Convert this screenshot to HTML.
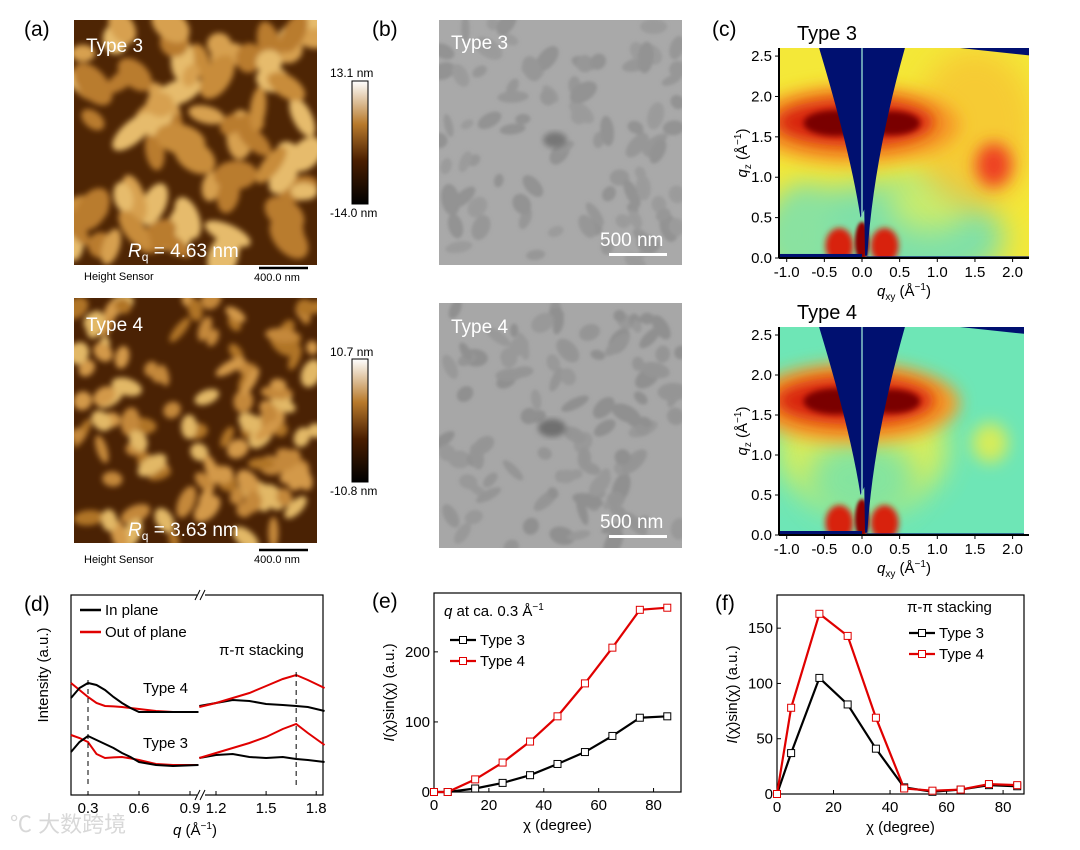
<!DOCTYPE html>
<html><head><meta charset="utf-8">
<style>
html,body{margin:0;padding:0;background:#fff;}
body{width:1080px;height:845px;position:relative;overflow:hidden;font-family:"Liberation Sans",Arial,sans-serif;}
svg text{font-family:"Liberation Sans",Arial,sans-serif;}
</style></head>
<body>
<svg id="fig" width="1080" height="845" viewBox="0 0 1080 845" xmlns="http://www.w3.org/2000/svg">
<defs>
  <filter id="blur3" x="-20%" y="-20%" width="140%" height="140%"><feGaussianBlur stdDeviation="3"/></filter>
  <filter id="blur8" x="-50%" y="-50%" width="200%" height="200%"><feGaussianBlur stdDeviation="8"/></filter>
  <filter id="blur14" x="-50%" y="-50%" width="200%" height="200%"><feGaussianBlur stdDeviation="14"/></filter>
  <filter id="blur2"><feGaussianBlur stdDeviation="1.5"/></filter>
  <linearGradient id="afmbar" x1="0" y1="1" x2="0" y2="0">
    <stop offset="0" stop-color="#000"/><stop offset="0.35" stop-color="#4a1e00"/>
    <stop offset="0.65" stop-color="#b87a2c"/><stop offset="1" stop-color="#fff"/>
  </linearGradient>
  <clipPath id="cA1"><rect x="74" y="20" width="243" height="245"/></clipPath>
  <clipPath id="cA2"><rect x="74" y="298" width="243" height="245"/></clipPath>
  <clipPath id="cB1"><rect x="439" y="20" width="243" height="245"/></clipPath>
  <clipPath id="cB2"><rect x="439" y="303" width="243" height="245"/></clipPath>
  <clipPath id="cC1"><rect x="779" y="48" width="250" height="210"/></clipPath>
  <clipPath id="cC2"><rect x="779" y="327" width="245" height="208"/></clipPath>
</defs>

<!-- (a) AFM -->
<text x="24" y="36" font-size="21">(a)</text>
<g clip-path="url(#cA1)">
  <rect x="74" y="20" width="243" height="245" fill="#4e2504"/>
  <g id="afm1" filter="url(#blur3)"></g>
</g>
<text x="86" y="52" font-size="19" fill="#fff">Type 3</text>
<text x="128" y="257" font-size="19" fill="#fff"><tspan font-style="italic">R</tspan><tspan font-size="12" dy="4">q</tspan><tspan dy="-4"> = 4.63 nm</tspan></text>
<text x="84" y="280" font-size="11">Height Sensor</text>
<line x1="259" y1="268" x2="308" y2="268" stroke="#000" stroke-width="2.5"/>
<text x="254" y="281" font-size="11">400.0 nm</text>
<rect x="352" y="81" width="16" height="123" fill="url(#afmbar)" stroke="#000"/>
<text x="330" y="77" font-size="12">13.1 nm</text>
<text x="330" y="217" font-size="12">-14.0 nm</text>

<g clip-path="url(#cA2)">
  <rect x="74" y="298" width="243" height="245" fill="#4a2204"/>
  <g id="afm2" filter="url(#blur3)"></g>
</g>
<text x="86" y="331" font-size="19" fill="#fff">Type 4</text>
<text x="128" y="536" font-size="19" fill="#fff"><tspan font-style="italic">R</tspan><tspan font-size="12" dy="4">q</tspan><tspan dy="-4"> = 3.63 nm</tspan></text>
<text x="84" y="563" font-size="11">Height Sensor</text>
<line x1="259" y1="550" x2="308" y2="550" stroke="#000" stroke-width="2.5"/>
<text x="254" y="563" font-size="11">400.0 nm</text>
<rect x="352" y="359" width="16" height="123" fill="url(#afmbar)" stroke="#000"/>
<text x="330" y="356" font-size="12">10.7 nm</text>
<text x="330" y="495" font-size="12">-10.8 nm</text>

<!-- (b) SEM -->
<text x="372" y="36" font-size="21">(b)</text>
<g clip-path="url(#cB1)">
  <rect x="439" y="20" width="243" height="245" fill="#a9a9a9"/>
  <g id="sem1" filter="url(#blur2)"></g>
  <ellipse cx="555" cy="140" rx="12" ry="8" fill="#777" filter="url(#blur3)"/>
</g>
<text x="451" y="49" font-size="19" fill="#fff">Type 3</text>
<text x="600" y="246" font-size="19" fill="#fff">500 nm</text>
<rect x="609" y="253" width="58" height="3" fill="#fff"/>
<g clip-path="url(#cB2)">
  <rect x="439" y="303" width="243" height="245" fill="#a7a7a7"/>
  <g id="sem2" filter="url(#blur2)"></g>
  <ellipse cx="552" cy="428" rx="14" ry="9" fill="#707070" filter="url(#blur3)"/>
</g>
<text x="451" y="333" font-size="19" fill="#fff">Type 4</text>
<text x="600" y="528" font-size="19" fill="#fff">500 nm</text>
<rect x="609" y="535" width="58" height="3" fill="#fff"/>

<!-- (c) GIWAXS -->
<text x="712" y="36" font-size="21">(c)</text>
<g id="gi1" clip-path="url(#cC1)"></g>
<g id="gi2" clip-path="url(#cC2)"></g>
<g id="giax"></g>

<g id="pd"></g><g id="pe"></g><g id="pf"></g>

<text x="10" y="832" font-size="22" fill="#d8d8d8" font-family="'Liberation Sans','Noto Sans CJK SC',sans-serif">℃ 大数跨境</text>
</svg>

<script>
// ===== chart data =====
// (e) q at ca. 0.3
const chiE = [0,5,15,25,35,45,55,65,75,85];
const eType3 = [0,0,5,13,24,40,57,80,106,108];
const eType4 = [0,0,18,42,72,108,155,206,260,263];
const eYTicks = [0,100,200];
const eXTicks = [0,20,40,60,80];
// (f) pi-pi stacking
const chiF = [0,5,15,25,35,45,55,65,75,85];
const fType3 = [0,37,105,81,41,6,2,4,8,7];
const fType4 = [0,78,163,143,69,5,3,4,9,8];
const fYTicks = [0,50,100,150];
const fXTicks = [0,20,40,60,80];
// (d) line cuts (arbitrary intensity)
const dqLow = [0.2,0.25,0.3,0.35,0.4,0.45,0.5,0.55,0.6,0.7,0.8,0.95];
const dqHigh = [1.1,1.2,1.3,1.4,1.5,1.6,1.68,1.75,1.85];
const d4InLow = [48.5,53.5,56,55,52.5,49,46,43.5,41.5,41.5,41.5,41.5];
const d4InHigh = [44.5,46,47.5,47,45.5,45,44.5,44,42];
const d4OutLow = [56,52.5,49,46,44.5,44.3,44,43.5,43,42,41.5,41.5];
const d4OutHigh = [44,46,48.5,51,54.5,58,60,57.5,53.5];
const d3InLow = [21.5,26.5,29.5,27.5,25.5,23.5,21,19,16.5,15,14.5,15];
const d3InHigh = [18.5,20,20.5,19,18.5,19,18,17.5,16.5];
const d3OutLow = [30,28.5,26.5,20.5,18.5,18.8,19,18.3,17.5,15.5,15,15];
const d3OutHigh = [18.5,21,23.5,26,29,33,35.5,31,25];
const dTicksLow = [0.3,0.6,0.9];
const dTicksHigh = [1.2,1.5,1.8];
// GIWAXS ticks
const giXTicks = [-1.0,-0.5,0.0,0.5,1.0,1.5,2.0];
const giYTicks = [0.0,0.5,1.0,1.5,2.0,2.5];

const NS = "http://www.w3.org/2000/svg";
function mk(tag, attrs, parent){const e=document.createElementNS(NS,tag);for(const k in attrs)e.setAttribute(k,attrs[k]);(parent||document.getElementById('fig')).appendChild(e);return e;}
function fmt1(v){return v.toFixed(1);}

// ===== textures (AFM, SEM) =====
let seed=7;function rnd(){seed=(seed*16807)%2147483647;return seed/2147483647;}
function blobs(gid,x0,y0,w,h,n,cols,rmin,rmax){
  const g=document.getElementById(gid);
  for(let i=0;i<n;i++){
    const e=mk('ellipse',{cx:x0+rnd()*w,cy:y0+rnd()*h,rx:rmin+rnd()*(rmax-rmin),ry:rmin*0.7+rnd()*(rmax-rmin)*0.5,fill:cols[Math.floor(rnd()*cols.length)],transform:''},g);
    const a=Math.floor(rnd()*180);e.setAttribute('transform','rotate('+a+' '+e.getAttribute('cx')+' '+e.getAttribute('cy')+')');
  }
}
blobs('afm1',74,20,243,245,75,['#d7a050','#c88c3a','#e6bb6c','#b97c2e'],11,26);
blobs('afm2',74,298,243,245,120,['#d3994a','#c4883a','#e2b866','#b07428'],7,17);
blobs('sem1',439,20,243,245,90,['#939393','#979797','#9b9b9b'],6,16);
blobs('sem2',439,303,243,245,100,['#909090','#959595','#999'],6,16);

// ===== GIWAXS maps =====
function giwaxs(gid, y0, h, type){
  const g=document.getElementById(gid);
  const x0=779, w=250;
  const X=q=>862+q*75.3;
  const Y=q=>y0+h-q*(h/2.6);
  const base = type===3 ? '#f4e838' : '#6ee6b6';
  mk('rect',{x:x0,y:y0,width:w,height:h,fill:base},g);
  if(type===3){
    mk('ellipse',{cx:X(0.3),cy:Y(0.25),rx:120,ry:55,fill:'#7fe0a8',filter:'url(#blur14)'},g);
    mk('ellipse',{cx:X(-0.8),cy:Y(0.3),rx:30,ry:50,fill:'#8ae2a0',filter:'url(#blur14)'},g);
    mk('ellipse',{cx:X(0.9),cy:Y(0.7),rx:40,ry:30,fill:'#c6ec70',filter:'url(#blur14)'},g);
    mk('ellipse',{cx:X(1.5),cy:Y(1.6),rx:60,ry:80,fill:'#f8b830',opacity:0.6,filter:'url(#blur14)'},g);
    mk('ellipse',{cx:X(1.75),cy:Y(1.15),rx:18,ry:22,fill:'#ee4020',filter:'url(#blur8)'},g);
  } else {
    mk('ellipse',{cx:X(0.0),cy:Y(1.1),rx:85,ry:65,fill:'#e6ee50',opacity:0.9,filter:'url(#blur14)'},g);
    mk('ellipse',{cx:X(0.0),cy:Y(0.7),rx:55,ry:40,fill:'#70e2b0',opacity:0.8,filter:'url(#blur14)'},g);
    mk('ellipse',{cx:X(1.7),cy:Y(1.15),rx:18,ry:20,fill:'#d6ec5a',filter:'url(#blur8)'},g);
  }
  mk('ellipse',{cx:X(-0.1),cy:Y(1.65),rx:105,ry:40,fill:'#f59a28',filter:'url(#blur8)'},g);
  mk('ellipse',{cx:X(-0.1),cy:Y(1.68),rx:80,ry:24,fill:'#d82010',filter:'url(#blur8)'},g);
  mk('ellipse',{cx:X(-0.35),cy:Y(1.67),rx:32,ry:13,fill:'#7a0000',filter:'url(#blur3)'},g);
  mk('ellipse',{cx:X(0.4),cy:Y(1.67),rx:28,ry:12,fill:'#7a0000',filter:'url(#blur3)'},g);
  mk('ellipse',{cx:X(-0.3),cy:Y(0.15),rx:14,ry:18,fill:'#d82010',filter:'url(#blur3)'},g);
  mk('ellipse',{cx:X(0.3),cy:Y(0.15),rx:14,ry:18,fill:'#d82010',filter:'url(#blur3)'},g);
  mk('ellipse',{cx:X(0.0),cy:Y(0.2),rx:7,ry:20,fill:'#900000',filter:'url(#blur2)'},g);
  // blue masked wedge
  mk('path',{d:`M${X(-0.57)},${y0} L${X(0.57)},${y0} Q${X(0.15)},${Y(1.2)} ${X(0.07)},${Y(0.03)} L${X(0.04)},${Y(0.03)} L${X(0.03)},${Y(0.6)} L${X(-0.02)},${Y(0.5)} Q${X(-0.15)},${Y(1.3)} ${X(-0.57)},${y0} Z`,fill:'#001070'},g);
  mk('line',{x1:X(0),y1:y0,x2:X(0),y2:Y(0.5),stroke:'#88c8c8','stroke-width':1.5},g);
  mk('rect',{x:x0,y:Y(0.05),width:X(0)-x0,height:h,fill:'#001070'},g);
  mk('rect',{x:X(0.06),y:Y(0.02),width:300,height:h,fill:'#001070'},g);
  mk('path',{d:`M${X(1.3)},${y0} L${X(2.3)},${y0} L${X(2.3)},${y0+8} Z`,fill:'#001070'},g);
}
giwaxs('gi1',48,210,3);
giwaxs('gi2',327,208,4);

function giAxes(y0,h,title,n){
  const ax=document.getElementById('giax');
  const X=q=>862+q*75.3;
  const Y=q=>y0+h-q*(h/2.6);
  const l=mk('line',{x1:779,y1:y0,x2:779,y2:y0+h,stroke:'#000','stroke-width':2},ax);
  
  
  mk('line',{x1:779,y1:y0+h,x2:1029,y2:y0+h,stroke:'#000','stroke-width':2},ax);
  giXTicks.forEach(v=>{
    mk('line',{x1:X(v),y1:y0+h,x2:X(v),y2:y0+h+4,stroke:'#000'},ax);
    const t=mk('text',{x:X(v),y:y0+h+19,'font-size':15,'text-anchor':'middle'},ax);t.textContent=fmt1(v);
    
    
  });
  giYTicks.forEach(v=>{
    mk('line',{x1:775,y1:Y(v),x2:779,y2:Y(v),stroke:'#000'},ax);
    const t=mk('text',{x:772,y:Y(v)+5,'font-size':15,'text-anchor':'end'},ax);t.textContent=fmt1(v);
    
    
  });
  const xt=mk('text',{x:904,y:y0+h+38,'font-size':15,'text-anchor':'middle'},ax);
  xt.innerHTML='<tspan font-style="italic">q</tspan><tspan font-size="10" dy="4">xy</tspan><tspan dy="-4"> (Å</tspan><tspan font-size="10" dy="-6">−1</tspan><tspan dy="6">)</tspan>';
  
  
  const yt=mk('text',{x:0,y:0,'font-size':15,'text-anchor':'middle',transform:`translate(747,${y0+h/2}) rotate(-90)`},ax);
  yt.innerHTML='<tspan font-style="italic">q</tspan><tspan font-size="10" dy="4">z</tspan><tspan dy="-4"> (Å</tspan><tspan font-size="10" dy="-6">−1</tspan><tspan dy="6">)</tspan>';
  
  
  const tt=mk('text',{x:797,y:y0-8,'font-size':20},ax);tt.textContent=title;
  
  
}
giAxes(48,210,'Type 3','type3');
giAxes(327,208,'Type 4','type4');

// ===== generic line/marker chart =====
function scatterChart(gid,o,xs,s3,s4,xt,yt){
  const g=document.getElementById(gid);
  const X=v=>o.l+(v-o.xmin)/(o.xmax-o.xmin)*(o.r-o.l);
  const Y=v=>o.b-(v-o.ymin)/(o.ymax-o.ymin)*(o.b-o.t);
  const fr=mk('rect',{x:o.l,y:o.t,width:o.r-o.l,height:o.b-o.t,fill:'none',stroke:'#000','stroke-width':1.2},g);
  
  
  xt.forEach(v=>{
    mk('line',{x1:X(v),y1:o.b,x2:X(v),y2:o.b-4,stroke:'#000'},g);
    const t=mk('text',{x:X(v),y:o.b+18,'font-size':15,'text-anchor':'middle'},g);t.textContent=v;
    
    
  });
  yt.forEach(v=>{
    mk('line',{x1:o.l,y1:Y(v),x2:o.l+4,y2:Y(v),stroke:'#000'},g);
    const t=mk('text',{x:o.l-4,y:Y(v)+5,'font-size':15,'text-anchor':'end'},g);t.textContent=v;
    
    
  });
  [[s3,'#000','type3'],[s4,'#e00000','type4']].forEach(([s,c,nm])=>{
    const p=mk('polyline',{points:xs.map((x,i)=>X(x)+','+Y(s[i])).join(' '),fill:'none',stroke:c,'stroke-width':2.2},g);
    
    
    xs.forEach((x,i)=>{
      const m=mk('rect',{x:X(x)-3.5,y:Y(s[i])-3.5,width:7,height:7,fill:'#fff',stroke:c,'stroke-width':1},g);
      
      
    });
  });
  const xtl=mk('text',{x:(o.l+o.r)/2,y:o.b+38,'font-size':15,'text-anchor':'middle'},g);xtl.textContent='χ (degree)';
  
  
  const ytl=mk('text',{x:0,y:0,'font-size':15,'text-anchor':'middle',transform:`translate(${o.l-40},${(o.t+o.b)/2}) rotate(-90)`},g);
  ytl.innerHTML='<tspan font-style="italic">I</tspan>(χ)sin(χ) (a.u.)';
  
  
  // legend
  [['Type 3','#000',o.ly],['Type 4','#e00000',o.ly+21]].forEach(([lab,c,yy],k)=>{
    mk('line',{x1:o.lx,y1:yy,x2:o.lx+26,y2:yy,stroke:c,'stroke-width':2.2},g);
    mk('rect',{x:o.lx+9.5,y:yy-3.5,width:7,height:7,fill:'#fff',stroke:c},g);
    const t=mk('text',{x:o.lx+30,y:yy+5,'font-size':15},g);t.textContent=lab;
    
    
  });
  const pl=mk('text',{x:o.l-62,y:o.t+15,'font-size':21},g);pl.textContent=o.label;
  
  
}
scatterChart('pe',{name:'e',label:'(e)',l:434,r:681,t:593,b:792,xmin:0,xmax:90,ymin:0,ymax:284,lx:450,ly:640},chiE,eType3,eType4,eXTicks,eYTicks);
scatterChart('pf',{name:'f',label:'(f)',l:777,r:1024,t:595,b:794,xmin:0,xmax:87.4,ymin:0,ymax:180,lx:909,ly:633},chiF,fType3,fType4,fXTicks,fYTicks);
(function(){const g=document.getElementById('pe');
  const t=mk('text',{x:444,y:616,'font-size':15},g);
  t.innerHTML='<tspan font-style="italic">q</tspan> at ca. 0.3 Å<tspan font-size="10" dy="-6">−1</tspan>';
  
  
  const g2=document.getElementById('pf');
  const t2=mk('text',{x:907,y:612,'font-size':15},g2);t2.textContent='π-π stacking';
  
  
})();

// ===== (d) =====
(function(){
  const g=document.getElementById('pd');
  const L=71,R=323,T=595,B=795;
  const XL=q=>71+(q-0.2)*170;
  const XH=q=>216+(q-1.2)*167;
  const Y=v=>B-v*2;
  const fr=mk('rect',{x:L,y:T,width:R-L,height:B-T,fill:'none',stroke:'#000','stroke-width':1.2},g);
  
  
  mk('rect',{x:197,y:T-4,width:8,height:8,fill:'#fff'},g);
  mk('rect',{x:197,y:B-4,width:8,height:8,fill:'#fff'},g);
  [[T],[B]].forEach(([yy])=>{
    mk('line',{x1:195,y1:yy+5,x2:200,y2:yy-5,stroke:'#000'},g);
    mk('line',{x1:200,y1:yy+5,x2:205,y2:yy-5,stroke:'#000'},g);
  });
  function line(xs,vs,X,c,nm){
    const p=mk('polyline',{points:xs.map((q,i)=>X(q)+','+Y(vs[i])).join(' '),fill:'none',stroke:c,'stroke-width':2},g);
    
    
  }
  line(dqLow,d4OutLow,XL,'#e00000','d-type4-out-of-plane-low');
  line(dqLow,d4InLow,XL,'#000','d-type4-in-plane-low');
  line(dqHigh,d4InHigh,XH,'#000','d-type4-in-plane-high');
  line(dqHigh,d4OutHigh,XH,'#e00000','d-type4-out-of-plane-high');
  line(dqLow,d3OutLow,XL,'#e00000','d-type3-out-of-plane-low');
  line(dqLow,d3InLow,XL,'#000','d-type3-in-plane-low');
  line(dqHigh,d3InHigh,XH,'#000','d-type3-in-plane-high');
  line(dqHigh,d3OutHigh,XH,'#e00000','d-type3-out-of-plane-high');
  mk('line',{x1:XL(0.3),y1:680,x2:XL(0.3),y2:785,stroke:'#000','stroke-dasharray':'5,4'},g);
  mk('line',{x1:XH(1.68),y1:672,x2:XH(1.68),y2:785,stroke:'#000','stroke-dasharray':'5,4'},g);
  dTicksLow.forEach(v=>{mk('line',{x1:XL(v),y1:B,x2:XL(v),y2:B-4,stroke:'#000'},g);
    const t=mk('text',{x:XL(v),y:B+18,'font-size':15,'text-anchor':'middle'},g);t.textContent=fmt1(v);
    
    });
  dTicksHigh.forEach(v=>{mk('line',{x1:XH(v),y1:B,x2:XH(v),y2:B-4,stroke:'#000'},g);
    const t=mk('text',{x:XH(v),y:B+18,'font-size':15,'text-anchor':'middle'},g);t.textContent=fmt1(v);
    
    });
  const xt=mk('text',{x:195,y:835,'font-size':15,'text-anchor':'middle'},g);
  xt.innerHTML='<tspan font-style="italic">q</tspan> (Å<tspan font-size="10" dy="-6">−1</tspan><tspan dy="6">)</tspan>';
  
  
  const yt=mk('text',{x:0,y:0,'font-size':15,'text-anchor':'middle',transform:'translate(48,675) rotate(-90)'},g);yt.textContent='Intensity (a.u.)';
  
  
  const pl=mk('text',{x:24,y:611,'font-size':21},g);pl.textContent='(d)';
  
  
  [['In plane','#000',610],['Out of plane','#e00000',632]].forEach(([lab,c,yy])=>{
    mk('line',{x1:80,y1:yy,x2:101,y2:yy,stroke:c,'stroke-width':2.5},g);
    const t=mk('text',{x:105,y:yy+5,'font-size':15},g);t.textContent=lab;
    
    
  });
  [['π-π stacking',219,655],['Type 4',143,693],['Type 3',143,748]].forEach(([s,x,y])=>{
    const t=mk('text',{x:x,y:y,'font-size':15},g);t.textContent=s;
    
    
  });
})();
</script>
</body></html>
